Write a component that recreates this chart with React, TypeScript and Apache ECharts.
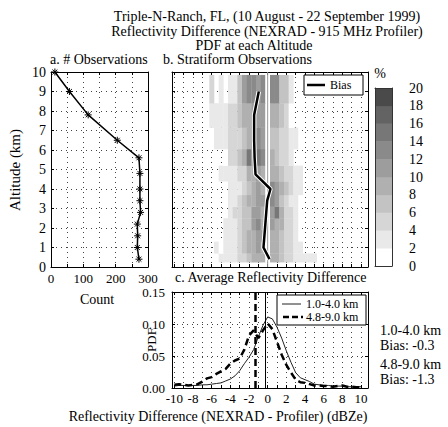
import React, { useEffect, useRef } from 'react';
import * as echarts from 'echarts';

const FONT = "'Liberation Serif', serif";

// ---------- Panel a: number of observations ----------
const obsAltitudes = [0.4, 1.0, 1.6, 2.2, 2.8, 3.4, 4.0, 4.8, 5.6, 6.5, 7.8, 9.0, 10.0];
const obsCounts = [272, 267, 268, 267, 277, 275, 275, 275, 272, 205, 115, 57, 12];

// ---------- Panel b: stratiform PDF at each altitude (%) ----------
const rowEdges = [0.25, 0.7, 1.3, 1.9, 2.5, 3.1, 3.7, 4.4, 5.2, 6.05, 7.15, 8.4, 9.85];
const binCenters = [-6, -5.5, -5, -4.5, -4, -3.5, -3, -2.5, -2, -1.5, -1, -0.5, 0, 0.5, 1, 1.5, 2, 2.5, 3, 3.5, 4, 4.5, 5, 5.5, 6];
const binHalf = 0.25;
const pctAt0_4 = [0, 0, 3, 3, 2, 3, 4, 5, 6, 8, 9, 9, 1, 8, 8, 6, 5, 4, 3, 3, 2, 2, 3, 0, 0];
const pctAt1_0 = [0, 2, 1, 2, 3, 3, 5, 6, 8, 9, 10, 8, 1, 9, 9, 7, 5, 4, 3, 2, 0, 0, 0, 0, 0];
const pctAt1_6 = [0, 0, 0, 3, 3, 3, 5, 7, 8, 9, 10, 10, 1, 9, 8, 7, 5, 4, 3, 0, 0, 0, 0, 0, 0];
const pctAt2_2 = [0, 0, 0, 2, 3, 3, 5, 7, 7, 10, 13, 9, 1, 10, 9, 8, 5, 4, 3, 0, 0, 0, 0, 0, 0];
const pctAt2_8 = [0, 0, 0, 0, 2, 4, 4, 6, 7, 10, 11, 9, 1, 10, 14, 9, 5, 4, 2, 0, 0, 0, 0, 0, 0];
const pctAt3_4 = [0, 0, 0, 0, 2, 3, 4, 6, 8, 9, 11, 10, 1, 12, 10, 7, 5, 3, 2, 0, 0, 0, 0, 0, 0];
const pctAt4_0 = [0, 0, 0, 0, 2, 3, 3, 5, 6, 8, 10, 9, 1, 12, 11, 8, 6, 4, 3, 2, 0, 0, 0, 0, 0];
const pctAt4_8 = [0, 0, 2, 3, 3, 3, 4, 5, 8, 8, 10, 9, 1, 9, 9, 6, 5, 4, 3, 2, 0, 0, 0, 0, 0];
const pctAt5_6 = [0, 0, 0, 1, 4, 4, 6, 9, 14, 10, 14, 12, 1, 8, 6, 4, 4, 2, 0, 0, 0, 0, 0, 0, 0];
const pctAt6_5 = [1, 2, 3, 3, 4, 4, 5, 7, 9, 10, 12, 10, 1, 7, 7, 5, 4, 3, 2, 0, 0, 0, 0, 0, 0];
const pctAt7_8 = [3, 2, 3, 2, 4, 5, 6, 8, 8, 10, 11, 11, 1, 9, 8, 6, 4, 1, 0, 0, 0, 0, 0, 0, 0];
const pctAt9_0 = [4, 0, 2.5, 0, 3, 3, 7, 10, 13, 13, 11, 13, 1, 13, 13, 7, 7, 2, 0, 0, 0, 0, 0, 0, 0];
const pctRows = [pctAt0_4, pctAt1_0, pctAt1_6, pctAt2_2, pctAt2_8, pctAt3_4, pctAt4_0, pctAt4_8, pctAt5_6, pctAt6_5, pctAt7_8, pctAt9_0];

const biasAltitudes = [0.4, 1.0, 1.6, 2.2, 2.8, 3.4, 4.0, 4.75, 5.6, 6.5, 7.8, 9.0];
const biasValues = [0.2, -0.45, -0.35, -0.25, -0.15, -0.05, 0.3, -1.3, -1.4, -1.45, -1.45, -0.95];
const zeroLine = [[0, 0], [0, 10]];

// ---------- Panel c: average PDF ----------
const pdfBins = [-10, -9.5, -9, -8.5, -8, -7.5, -7, -6.5, -6, -5.5, -5, -4.5, -4, -3.5, -3, -2.5, -2, -1.5, -1, -0.5, 0, 0.5, 1, 1.5, 2, 2.5, 3, 3.5, 4, 4.5, 5, 5.5, 6, 6.5, 7, 7.5, 8, 8.5, 9, 9.5, 10];
const pdfLow = [0.003, 0.004, 0.004, 0.004, 0.004, 0.004, 0.005, 0.005, 0.006, 0.007, 0.008, 0.011, 0.014, 0.019, 0.027, 0.038, 0.048, 0.060, 0.080, 0.098, 0.111, 0.108, 0.095, 0.078, 0.058, 0.040, 0.024, 0.016, 0.013, 0.010, 0.006, 0.005, 0.004, 0.004, 0.003, 0.003, 0.003, 0.002, 0.002, 0.002, 0.002];
const pdfHigh = [0.005, 0.006, 0.005, 0.004, 0.005, 0.006, 0.010, 0.015, 0.017, 0.022, 0.026, 0.030, 0.038, 0.043, 0.046, 0.060, 0.082, 0.090, 0.078, 0.090, 0.101, 0.092, 0.072, 0.052, 0.036, 0.024, 0.013, 0.009, 0.008, 0.006, 0.004, 0.004, 0.003, 0.003, 0.002, 0.003, 0.004, 0.002, 0.002, 0.001, 0.001];
const biasLow = -0.3;
const biasHigh = -1.3;

// ---------- tick values ----------
const diffTicks = [-10, -9, -8, -7, -6, -5, -4, -3, -2, -1, 0, 1, 2, 3, 4, 5, 6, 7, 8, 9, 10];
const diffLabels = [-10, -8, -6, -4, -2, 0, 2, 4, 6, 8, 10];

// ---------- colour scale ----------
const colorLevels = [0, 2, 4, 6, 8, 10, 12, 14, 16, 18, 20];
const grays = ['#ffffff', '#e9e9e9', '#d6d6d6', '#c3c3c3', '#b0b0b0', '#9d9d9d', '#8a8a8a', '#777777', '#636363', '#4a4a4a'];

function colorFor(v: number) {
  const idx = Math.max(0, Math.min(grays.length - 1, Math.floor(v / 2)));
  return grays[idx];
}

const STAR = 'path://M5,0L5,10M0,5L10,5M1.5,1.5L8.5,8.5M1.5,8.5L8.5,1.5';
const FS = 14;

export default function App() {
  const ref = useRef<HTMLDivElement>(null);

  useEffect(() => {
    if (!ref.current) return;
    const chart = echarts.init(ref.current, undefined, { renderer: 'svg' });

    const cells: number[][] = [];
    pctRows.forEach((row, r) => {
      row.forEach((v, j) => {
        if (v > 0) cells.push([binCenters[j] - binHalf, binCenters[j] + binHalf, rowEdges[r], rowEdges[r + 1], v]);
      });
    });
    const bands: number[][] = [];
    for (let k = 0; k < colorLevels.length - 1; k++) bands.push([colorLevels[k], colorLevels[k + 1], k]);

    const black = { color: '#000', width: 1 };
    const dotted = { show: true, lineStyle: { color: '#444', width: 1, type: [1, 4] as any } };
    const lbl = { color: '#000', fontFamily: FONT, fontSize: 13 };
    const tickIn = { show: true, inside: true, length: 3, lineStyle: black };
    const txt = (text: string, x: number, y: number, size: number, align = 'left', rot = 0) => ({
      type: 'text', z: 100, x, y, rotation: rot,
      style: { text, fontFamily: FONT, fontSize: size, fill: '#000', align, verticalAlign: 'middle' },
    });

    const option: any = {
      animation: false,
      textStyle: { fontFamily: FONT },
      grid: [
        { left: 51, top: 72, width: 97, height: 195 },
        { left: 172, top: 72, width: 196, height: 195 },
        { left: 172, top: 292, width: 196, height: 96 },
        { left: 375, top: 88, width: 17, height: 178 },
      ],
      xAxis: [
        { gridIndex: 0, type: 'value', position: 'bottom', min: 0, max: 300, interval: 50,
          axisLine: { show: true, onZero: false, lineStyle: black }, axisTick: tickIn,
          axisLabel: { ...lbl, margin: 5, formatter: (v: number) => (v % 100 === 0 ? String(v) : '') },
          splitLine: dotted },
        { gridIndex: 0, type: 'value', position: 'top', min: 0, max: 300, interval: 50,
          axisLine: { show: true, onZero: false, lineStyle: black }, axisTick: tickIn,
          axisLabel: { show: false }, splitLine: { show: false } },
        { gridIndex: 1, type: 'value', position: 'bottom', min: -10.25, max: 10.75,
          axisLine: { show: true, onZero: false, lineStyle: black },
          axisTick: { ...tickIn, customValues: diffTicks },
          axisLabel: { show: false, customValues: diffLabels }, splitLine: dotted },
        { gridIndex: 1, type: 'value', position: 'top', min: -10.25, max: 10.75,
          axisLine: { show: true, onZero: false, lineStyle: black },
          axisTick: { ...tickIn, customValues: diffTicks },
          axisLabel: { show: false, customValues: diffLabels }, splitLine: { show: false } },
        { gridIndex: 2, type: 'value', position: 'bottom', min: -10.25, max: 10.75,
          axisLine: { show: true, onZero: false, lineStyle: black },
          axisTick: { ...tickIn, customValues: diffTicks },
          axisLabel: { ...lbl, margin: 4, customValues: diffLabels, formatter: (v: number) => String(v) },
          splitLine: dotted },
        { gridIndex: 2, type: 'value', position: 'top', min: -10.25, max: 10.75,
          axisLine: { show: true, onZero: false, lineStyle: black },
          axisTick: { ...tickIn, customValues: diffTicks },
          axisLabel: { show: false, customValues: diffLabels }, splitLine: { show: false } },
        { gridIndex: 3, type: 'value', position: 'bottom', min: 0, max: 1, z: 10,
          axisLine: { show: true, onZero: false, lineStyle: { color: '#333', width: 1 } },
          axisTick: { show: false }, axisLabel: { show: false }, splitLine: { show: false } },
        { gridIndex: 3, type: 'value', position: 'top', min: 0, max: 1, z: 10,
          axisLine: { show: true, onZero: false, lineStyle: { color: '#333', width: 1 } },
          axisTick: { show: false }, axisLabel: { show: false }, splitLine: { show: false } },
      ],
      yAxis: [
        { gridIndex: 0, type: 'value', position: 'left', min: 0, max: 10, interval: 1,
          axisLine: { show: true, onZero: false, lineStyle: black }, axisTick: tickIn,
          axisLabel: { ...lbl, fontSize: 14, margin: 5 }, splitLine: dotted },
        { gridIndex: 0, type: 'value', position: 'right', min: 0, max: 10, interval: 1,
          axisLine: { show: true, onZero: false, lineStyle: black }, axisTick: tickIn,
          axisLabel: { show: false }, splitLine: { show: false } },
        { gridIndex: 1, type: 'value', position: 'left', min: 0, max: 10, interval: 1,
          axisLine: { show: true, onZero: false, lineStyle: black }, axisTick: tickIn,
          axisLabel: { show: false }, splitLine: dotted },
        { gridIndex: 1, type: 'value', position: 'right', min: 0, max: 10, interval: 1,
          axisLine: { show: true, onZero: false, lineStyle: black }, axisTick: tickIn,
          axisLabel: { show: false }, splitLine: { show: false } },
        { gridIndex: 2, type: 'value', position: 'left', min: 0, max: 0.15, interval: 0.05,
          axisLine: { show: true, onZero: false, lineStyle: black }, axisTick: tickIn,
          axisLabel: { ...lbl, margin: 7, formatter: (v: number) => v.toFixed(2) }, splitLine: dotted },
        { gridIndex: 2, type: 'value', position: 'right', min: 0, max: 0.15, interval: 0.05,
          axisLine: { show: true, onZero: false, lineStyle: black }, axisTick: tickIn,
          axisLabel: { show: false }, splitLine: { show: false } },
        { gridIndex: 3, type: 'value', position: 'right', min: 0, max: 20, interval: 2, z: 10,
          axisLine: { show: true, onZero: false, lineStyle: { color: '#333', width: 1 } },
          axisTick: { show: false }, axisLabel: { ...lbl, fontSize: 14, margin: 17 }, splitLine: { show: false } },
        { gridIndex: 3, type: 'value', position: 'left', min: 0, max: 20, interval: 2, z: 10,
          axisLine: { show: true, onZero: false, lineStyle: { color: '#333', width: 1 } },
          axisTick: { show: false }, axisLabel: { show: false }, splitLine: { show: false } },
      ],
      series: [
        {
          type: 'line', xAxisIndex: 0, yAxisIndex: 0,
          data: obsCounts.map((c, i) => [c, obsAltitudes[i]]),
          symbol: STAR, symbolSize: 7, showAllSymbol: true,
          lineStyle: { color: '#000', width: 1.5 },
          itemStyle: { color: '#000', borderColor: '#000', borderWidth: 1 },
        },
        {
          type: 'custom', xAxisIndex: 2, yAxisIndex: 2, clip: true, z: 2,
          encode: { x: [0, 1], y: [2, 3] },
          data: cells,
          renderItem: (params: any, api: any) => {
            const p0 = api.coord([api.value(0), api.value(3)]);
            const p1 = api.coord([api.value(1), api.value(2)]);
            return {
              type: 'rect',
              shape: { x: p0[0], y: p0[1], width: p1[0] - p0[0] + 0.3, height: p1[1] - p0[1] + 0.3 },
              style: { fill: colorFor(api.value(4)) },
            };
          },
        },
        {
          type: 'line', xAxisIndex: 2, yAxisIndex: 2, data: zeroLine, symbol: 'none', z: 3,
          lineStyle: { color: '#9a9a9a', width: 1 },
        },
        {
          type: 'line', xAxisIndex: 2, yAxisIndex: 2, z: 4,
          data: biasValues.map((b, i) => [b, biasAltitudes[i]]), symbol: 'none',
          lineStyle: { color: '#fff', width: 4.5 },
        },
        {
          type: 'line', xAxisIndex: 2, yAxisIndex: 2, z: 5,
          data: biasValues.map((b, i) => [b, biasAltitudes[i]]), symbol: 'none',
          lineStyle: { color: '#000', width: 2.5 },
        },
        {
          type: 'line', xAxisIndex: 4, yAxisIndex: 4, z: 4,
          data: pdfBins.map((x, i) => [x, pdfLow[i]]), symbol: 'none',
          lineStyle: { color: '#222', width: 1 },
          markLine: { silent: true, symbol: ['none', 'none'], label: { show: false },
            lineStyle: { color: '#000', width: 1, type: 'solid' }, data: [{ xAxis: biasLow }] },
        },
        {
          type: 'line', xAxisIndex: 4, yAxisIndex: 4, z: 5,
          data: pdfBins.map((x, i) => [x, pdfHigh[i]]), symbol: 'none',
          lineStyle: { color: '#000', width: 2.5, type: [7, 4] },
          markLine: { silent: true, symbol: ['none', 'none'], label: { show: false },
            lineStyle: { color: '#000', width: 2.5, type: [7, 4] }, data: [{ xAxis: biasHigh }] },
        },
        {
          type: 'custom', xAxisIndex: 6, yAxisIndex: 6, z: 2,
          encode: { y: [0, 1] },
          data: bands,
          renderItem: (params: any, api: any) => {
            const p0 = api.coord([0, api.value(1)]);
            const p1 = api.coord([1, api.value(0)]);
            return {
              type: 'rect',
              shape: { x: p0[0], y: p0[1], width: p1[0] - p0[0], height: p1[1] - p0[1] + 0.3 },
              style: { fill: grays[api.value(2)] },
            };
          },
        },
      ],
      graphic: [
        txt('Triple-N-Ranch, FL, (10 August - 22 September 1999)', 267, 16, FS, 'center'),
        txt('Reflectivity Difference (NEXRAD - 915 MHz Profiler)', 267, 31, FS, 'center'),
        txt('PDF at each Altitude', 254, 45.5, FS, 'center'),
        txt('a. # Observations', 50, 59.5, FS),
        txt('b. Stratiform Observations', 163, 59.5, FS),
        txt('c. Average Reflectivity Difference', 175, 277, FS),
        txt('Count', 97, 299, FS, 'center'),
        txt('Altitude (km)', 15, 170, 15, 'center', Math.PI / 2),
        txt('PDF', 151, 340, 13, 'center', Math.PI / 2),
        txt('Reflectivity Difference (NEXRAD - Profiler) (dBZe)', 218, 416, FS, 'center'),
        txt('%', 380, 73, 14, 'center'),
        txt('1.0-4.0 km', 380, 330, 14),
        txt('Bias: -0.3', 380, 345, 14),
        txt('4.8-9.0 km', 380, 364, 14),
        txt('Bias: -1.3', 380, 379, 14),
        // legend b
        { type: 'rect', z: 100, shape: { x: 304, y: 75, width: 59, height: 20 }, style: { fill: '#fff', stroke: '#000', lineWidth: 1 } },
        { type: 'line', z: 101, shape: { x1: 307, y1: 85, x2: 325, y2: 85 }, style: { stroke: '#000', lineWidth: 2.5 } },
        { ...txt('Bias', 330, 85, 12), z: 101 },
        // legend c
        { type: 'rect', z: 100, shape: { x: 277, y: 295, width: 89, height: 30 }, style: { fill: '#fff', stroke: '#000', lineWidth: 1 } },
        { type: 'line', z: 101, shape: { x1: 282, y1: 304, x2: 301, y2: 304 }, style: { stroke: '#222', lineWidth: 1 } },
        { ...txt('1.0-4.0 km', 306, 304, 12), z: 101 },
        { type: 'line', z: 101, shape: { x1: 283, y1: 317, x2: 303, y2: 317 }, style: { stroke: '#000', lineWidth: 2.5, lineDash: [6, 3] } },
        { ...txt('4.8-9.0 km', 306, 317, 12), z: 101 },
      ],
    };

    chart.setOption(option);
    return () => chart.dispose();
  }, []);

  return <div ref={ref} style={{ position: 'fixed', left: 0, top: 0, width: 448, height: 427, background: '#fff' }} />;
}
